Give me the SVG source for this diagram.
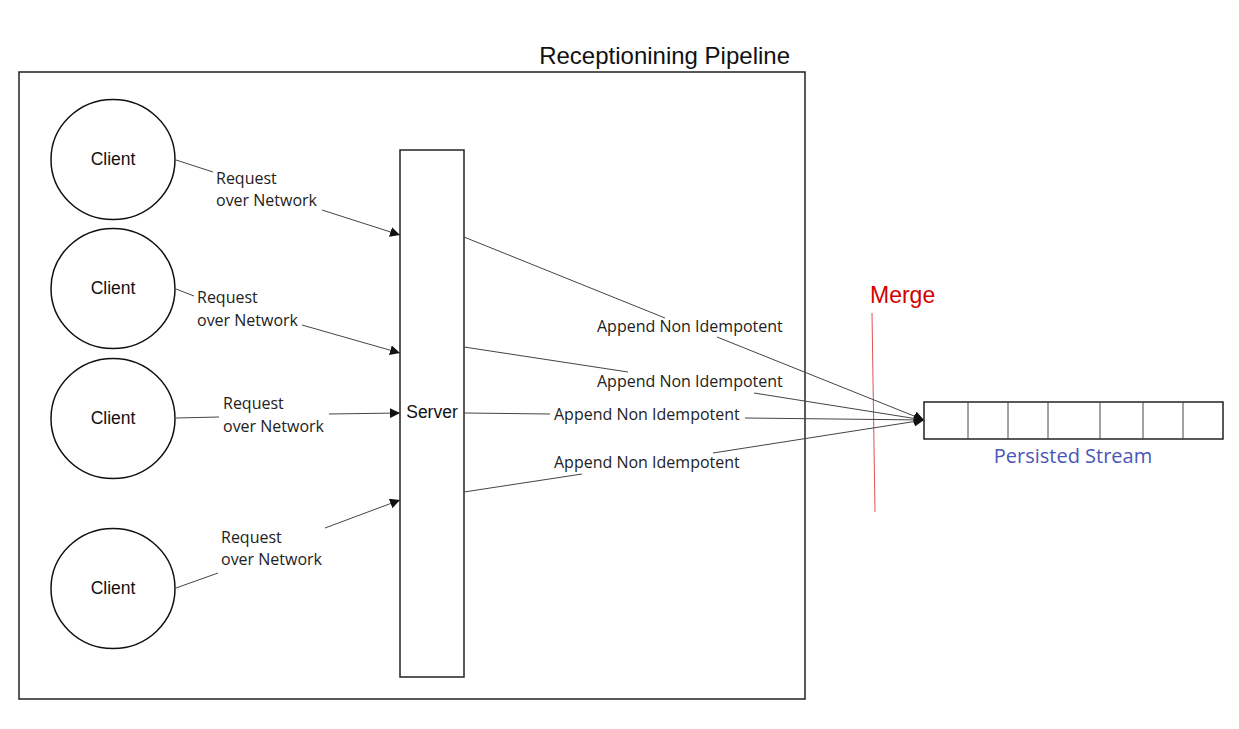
<svg xmlns="http://www.w3.org/2000/svg" width="1239" height="729" viewBox="0 0 1239 729">
<style>
.box{fill:#fff;stroke:#222;stroke-width:1.5}
.circ{fill:#fff;stroke:#111;stroke-width:1.5}
.ln{fill:none;stroke:#444;stroke-width:1}
.cl{font-family:"Liberation Sans",Arial,sans-serif;font-size:17.5px;fill:#111;text-anchor:middle}
.lb{font-family:"Open Sans","Noto Sans",sans-serif;font-size:16px;fill:#222}
.cell{stroke:#444;stroke-width:1}
</style>
<defs>
<marker id="ah" viewBox="0 0 10 10" refX="10" refY="5" markerWidth="10" markerHeight="10" markerUnits="userSpaceOnUse" orient="auto">
<path d="M0,0 L10,5 L0,10 z" fill="#111"/>
</marker>
</defs>
<rect width="1239" height="729" fill="#fff"/>
<g id="pipeline">
<rect class="box" x="19" y="72" width="786" height="627"/>
<text x="790" y="64" font-family="Liberation Sans,Arial,sans-serif" font-size="24" fill="#111" text-anchor="end">Receptionining Pipeline</text>
</g>
<g id="client1"><ellipse class="circ" cx="113" cy="159.5" rx="62" ry="60"/><text class="cl" x="113" y="165">Client</text></g>
<g id="client2"><ellipse class="circ" cx="113" cy="288.5" rx="62" ry="60"/><text class="cl" x="113" y="294">Client</text></g>
<g id="client3"><ellipse class="circ" cx="113" cy="418.5" rx="62" ry="60"/><text class="cl" x="113" y="424">Client</text></g>
<g id="client4"><ellipse class="circ" cx="113" cy="588.5" rx="62" ry="60"/><text class="cl" x="113" y="594">Client</text></g>
<g id="server"><rect class="box" x="400" y="150" width="64" height="527"/><text class="cl" x="432" y="418">Server</text></g>
<g id="stream">
<rect class="box" x="924" y="402" width="299" height="37"/>
<line class="cell" x1="968" y1="402" x2="968" y2="439"/>
<line class="cell" x1="1008" y1="402" x2="1008" y2="439"/>
<line class="cell" x1="1048" y1="402" x2="1048" y2="439"/>
<line class="cell" x1="1100" y1="402" x2="1100" y2="439"/>
<line class="cell" x1="1143" y1="402" x2="1143" y2="439"/>
<line class="cell" x1="1183" y1="402" x2="1183" y2="439"/>
<text x="1073" y="463" font-family="Open Sans,Noto Sans,sans-serif" font-size="20" fill="#4a55b8" text-anchor="middle">Persisted Stream</text>
</g>
<g id="merge">
<line x1="872" y1="313" x2="875" y2="512" stroke="#e05050" stroke-width="1"/>
<text x="870" y="303" font-family="Liberation Sans,Arial,sans-serif" font-size="23" fill="#d40000">Merge</text>
</g>
<g id="connectors">
<path class="ln" d="M176,160 L213,172 M322,210 L400,235" marker-end="url(#ah)"/>
<path class="ln" d="M176,289 L194,296 M302,325 L400,353" marker-end="url(#ah)"/>
<path class="ln" d="M176,418 L219,417 M329,414 L400,413" marker-end="url(#ah)"/>
<path class="ln" d="M176,588 L218,573 M325,528 L400,500" marker-end="url(#ah)"/>
<path class="ln" d="M464,237 L665,318 M717,337 L924,420" marker-end="url(#ah)"/>
<path class="ln" d="M464,347 L628,372 M754,393 L924,420" marker-end="url(#ah)"/>
<path class="ln" d="M464,413 L550,414 M745,418 L924,420" marker-end="url(#ah)"/>
<path class="ln" d="M464,492 L582,474 M713,453 L924,420" marker-end="url(#ah)"/>
<text class="lb" x="216" y="184">Request</text><text class="lb" x="216" y="206">over Network</text>
<text class="lb" x="197" y="303">Request</text><text class="lb" x="197" y="326">over Network</text>
<text class="lb" x="223" y="409">Request</text><text class="lb" x="223" y="432">over Network</text>
<text class="lb" x="221" y="543">Request</text><text class="lb" x="221" y="565">over Network</text>
<text class="lb" x="597" y="332">Append Non Idempotent</text>
<text class="lb" x="597" y="387">Append Non Idempotent</text>
<text class="lb" x="554" y="420">Append Non Idempotent</text>
<text class="lb" x="554" y="468">Append Non Idempotent</text>
</g>
</svg>
